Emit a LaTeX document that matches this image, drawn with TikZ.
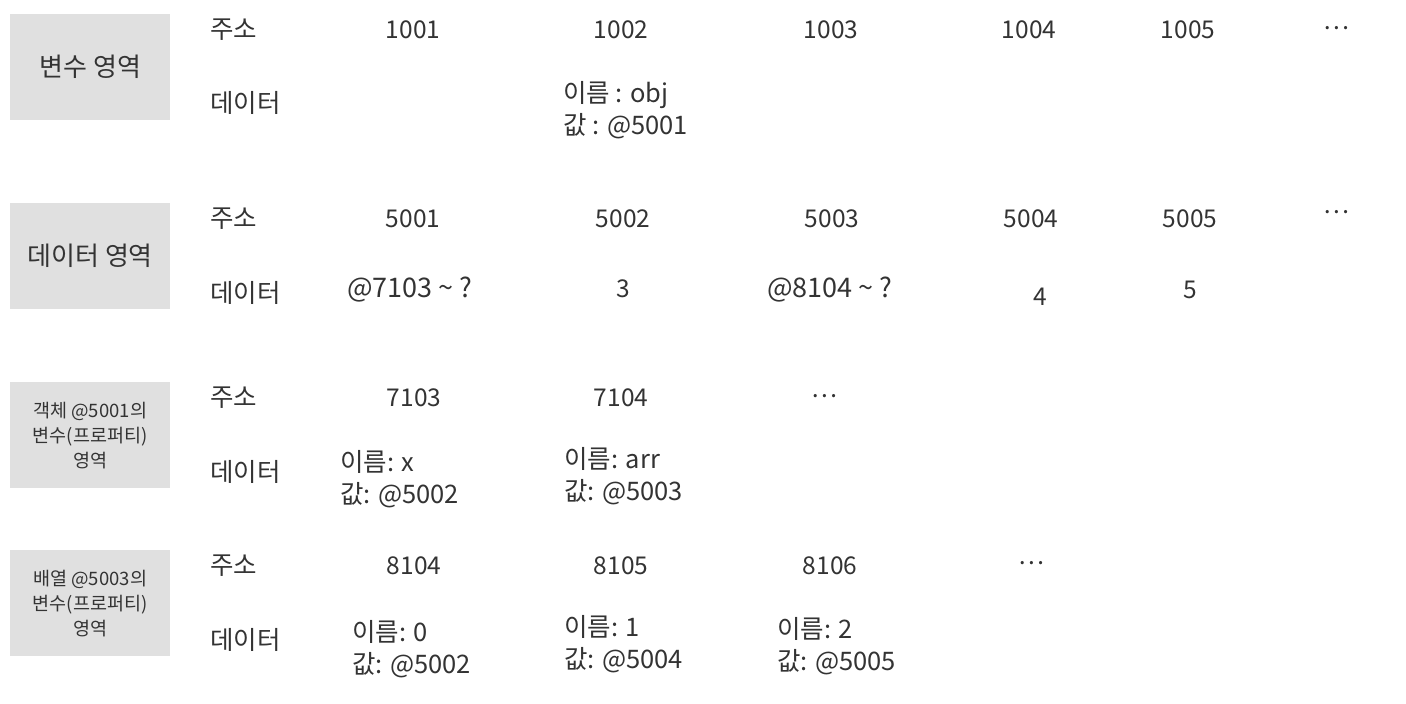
\documentclass[tikz,border=0pt]{standalone}
\usepackage{fontspec}
\setmainfont{Noto Sans CJK KR}
\begin{document}
\begin{tikzpicture}[x=1pt,y=-1pt,
  every node/.style={inner sep=0pt,text=black!80},
  areabox/.style={fill=black!12,minimum width=160pt,minimum height=106pt,anchor=north west,font=\fontsize{26}{30}\selectfont},
  smallbox/.style={areabox,align=center,font=\fontsize{18.5}{25}\selectfont},
  lbl/.style={font=\fontsize{25.5}{28}\selectfont,anchor=west},
  num/.style={font=\fontsize{24.5}{28}\selectfont},
  wnum/.style={font=\fontsize{27}{28}\selectfont},
  dat/.style={font=\fontsize{25.5}{32}\selectfont,align=left,anchor=west}]
\useasboundingbox (0,0) rectangle (1406,704);
% boxes
\node[areabox] (b1) at (10,14) {변수 영역};
\node[areabox] (b2) at (10,203) {데이터 영역};
\node[smallbox] (b3) at (10,382) {객체 @5001의\\변수(프로퍼티)\\영역};
\node[smallbox] (b4) at (10,550) {배열 @5003의\\변수(프로퍼티)\\영역};
% row 1
\node[lbl] (a1) at (210,30) {주소};
\node[lbl] (d1) at (210,103) {데이터};
\node[num] (n1001) at (413,30) {1001};
\node[num] (n1002) at (621,30) {1002};
\node[num] (n1003) at (831,30) {1003};
\node[num] (n1004) at (1029,30) {1004};
\node[num] (n1005) at (1188,30) {1005};
\node[num] (e1) at (1336,28) {…};
\node[dat] (v1002) at (563,110) {이름 : obj\\값 : @5001};
% row 2
\node[lbl] (a2) at (210,219) {주소};
\node[lbl] (d2) at (210,293) {데이터};
\node[num] (n5001) at (413,219) {5001};
\node[num] (n5002) at (623,219) {5002};
\node[num] (n5003) at (832,219) {5003};
\node[num] (n5004) at (1031,219) {5004};
\node[num] (n5005) at (1190,219) {5005};
\node[num] (e2) at (1336,212) {…};
\node[wnum] (v5001) at (410,290) {@7103 \textasciitilde\ ?};
\node[num] (v5002) at (623,289) {3};
\node[wnum] (v5003) at (830,290) {@8104 \textasciitilde\ ?};
\node[num] (v5004) at (1040,297) {4};
\node[num] (v5005) at (1190,290) {5};
% row 3
\node[lbl] (a3) at (210,398) {주소};
\node[lbl] (d3) at (210,472) {데이터};
\node[num] (n7103) at (414,398) {7103};
\node[num] (n7104) at (621,398) {7104};
\node[num] (e3) at (824,396) {…};
\node[dat] (v7103) at (340,479) {이름: x\\값: @5002};
\node[dat] (v7104) at (564,476) {이름: arr\\값: @5003};
% row 4
\node[lbl] (a4) at (210,566) {주소};
\node[lbl] (d4) at (210,640) {데이터};
\node[num] (n8104) at (414,566) {8104};
\node[num] (n8105) at (621,566) {8105};
\node[num] (n8106) at (830,566) {8106};
\node[num] (e4) at (1031,563) {…};
\node[dat] (v8104) at (352,649) {이름: 0\\값: @5002};
\node[dat] (v8105) at (564,644) {이름: 1\\값: @5004};
\node[dat] (v8106) at (777,646) {이름: 2\\값: @5005};
\end{tikzpicture}
\end{document}
